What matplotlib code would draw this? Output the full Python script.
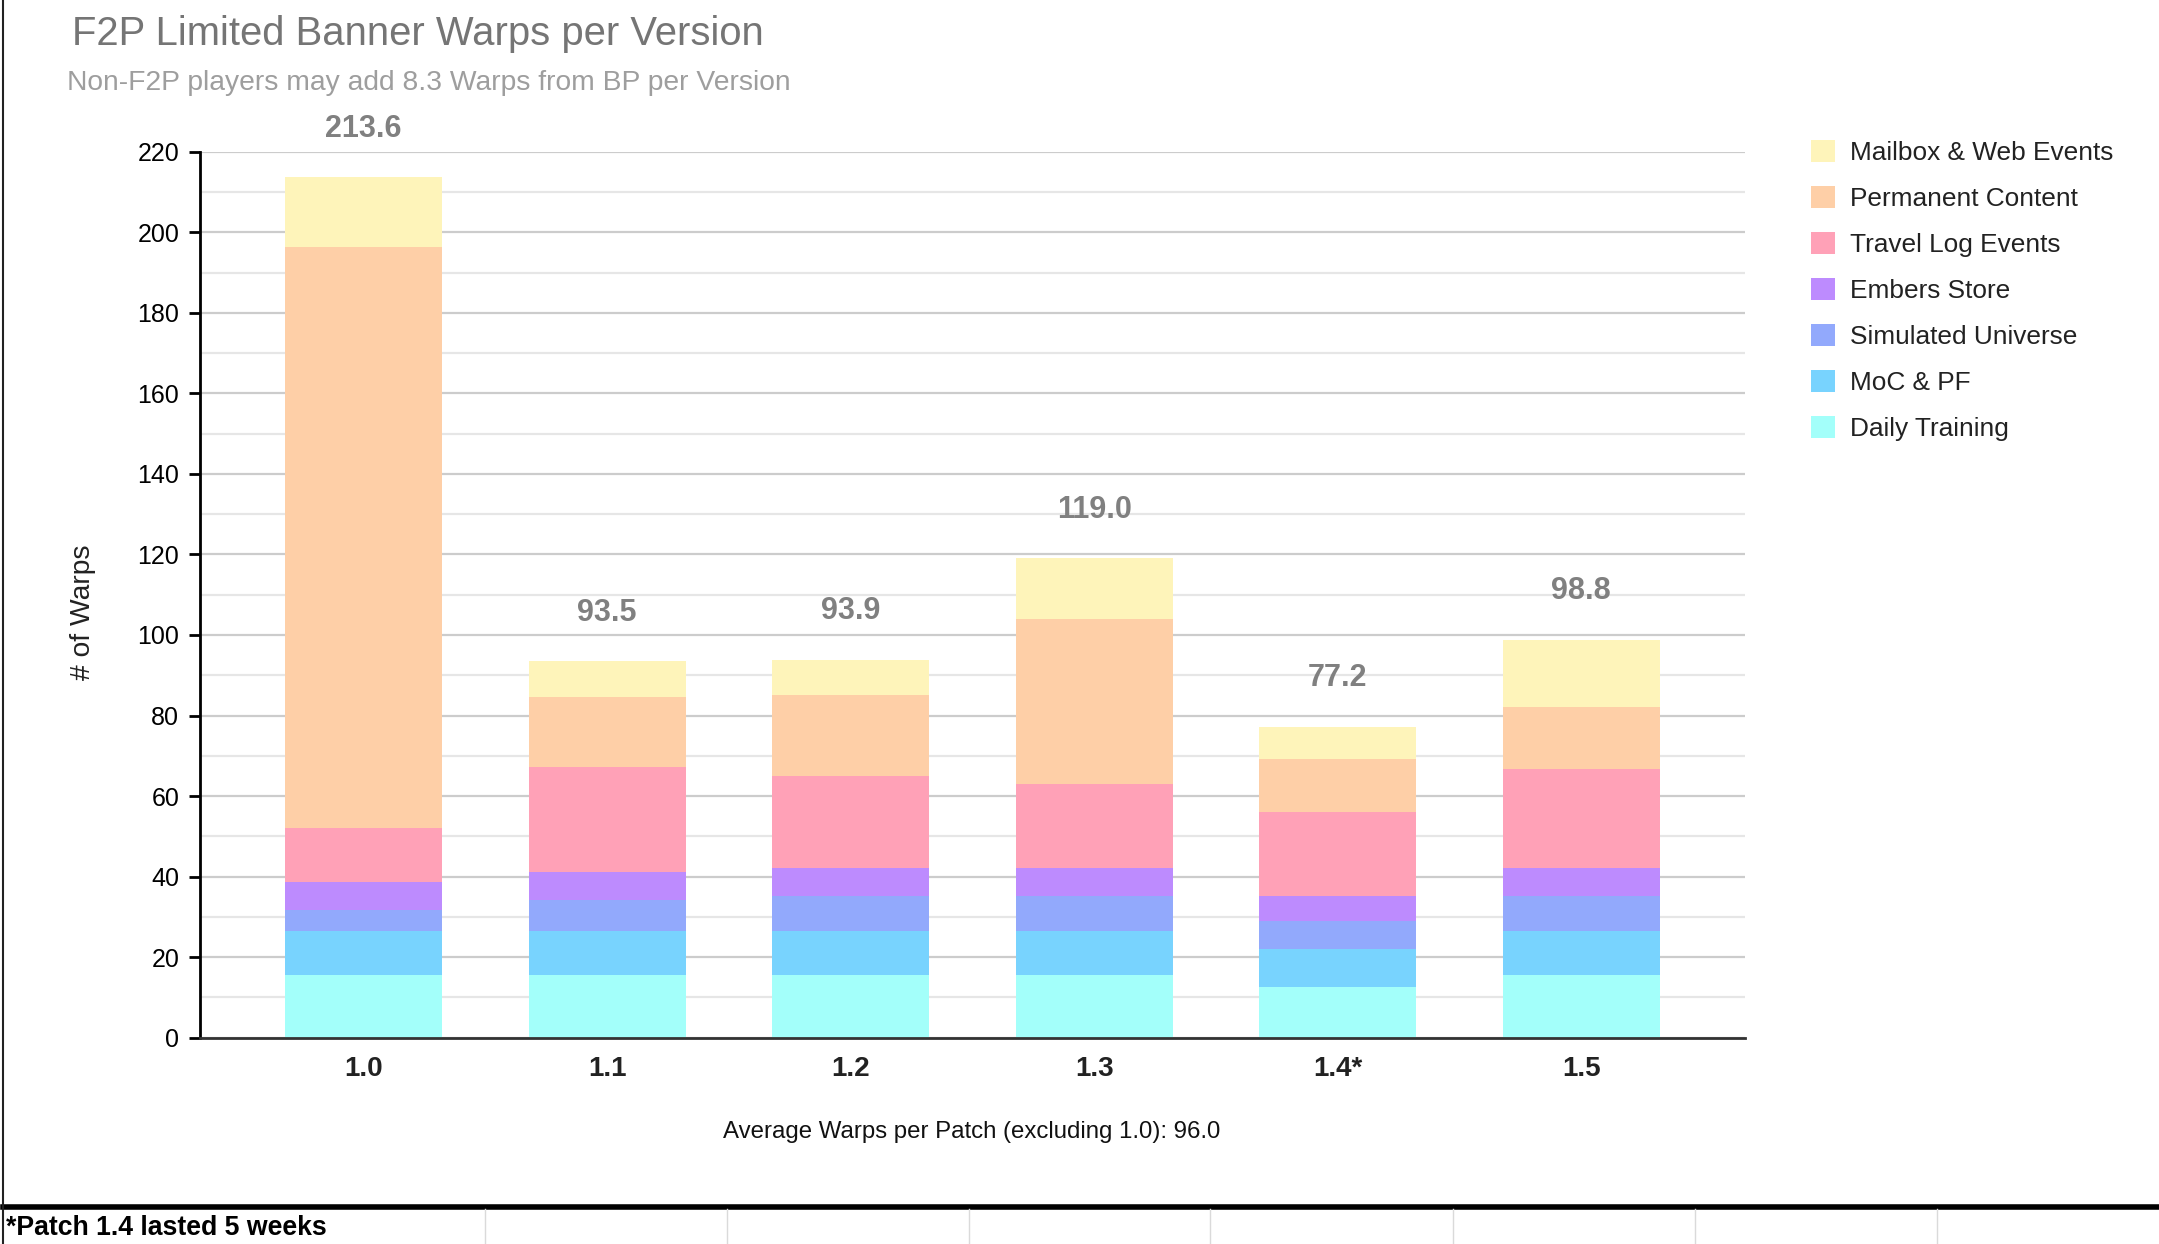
import matplotlib

matplotlib.use("Agg")

import matplotlib.pyplot as plt  # noqa: E402
import numpy as np  # noqa: E402
from matplotlib.lines import Line2D  # noqa: E402
from matplotlib.patches import Patch  # noqa: E402

# ------------------------------------------------------------------ data
versions = ["1.0", "1.1", "1.2", "1.3", "1.4*", "1.5"]

daily_training = [15.6, 15.6, 15.6, 15.6, 12.6, 15.6]
moc_pf = [11.0, 11.0, 11.0, 11.0, 9.5, 11.0]
simulated_universe = [5.0, 7.5, 8.5, 8.5, 7.0, 8.5]
embers_store = [7.0, 7.0, 7.0, 7.0, 6.0, 7.0]
travel_log = [13.5, 26.0, 23.0, 21.0, 21.0, 24.5]
permanent_content = [144.2, 17.5, 20.0, 40.8, 13.0, 15.5]
mailbox_web = [17.3, 8.9, 8.8, 15.1, 8.1, 16.7]

series_names = ["Daily Training", "MoC & PF", "Simulated Universe", "Embers Store",
                "Travel Log Events", "Permanent Content", "Mailbox & Web Events"]
series_colors = ["#a3fffa", "#78d3fe", "#92a9fc", "#bd8bfe",
                 "#ffa1b7", "#fecfa7", "#fef4ba"]

avg_excl_first = 96.0
bp_warps = 8.3

# ------------------------------------------------------------------ figure
plt.rcParams["font.family"] = ["Liberation Sans", "DejaVu Sans"]

W, H, DPI = 2159, 1244, 100
fig = plt.figure(figsize=(W / DPI, H / DPI), dpi=DPI)
ax = fig.add_axes([200 / W, 1 - 1037.7 / H, 1545 / W, 886 / H])

series = [daily_training, moc_pf, simulated_universe, embers_store,
          travel_log, permanent_content, mailbox_web]
x = np.arange(len(versions))
bottom = np.zeros(len(versions))
for vals, name, col in zip(series, series_names, series_colors):
    ax.bar(x, vals, width=0.645, bottom=bottom, color=col, label=name,
           linewidth=0, zorder=3)
    bottom += np.array(vals)

for xi, tot in zip(x, bottom):
    ax.annotate(f"{tot:.1f}", (xi, tot), xytext=(0, 35), textcoords="offset points",
                ha="center", va="center", fontsize=22, fontweight="bold",
                color="#808080")

ax.set_xlim(-0.672, len(versions) - 1 + 0.672)
ax.set_ylim(0, 220)
ax.set_yticks(np.arange(0, 221, 20))
ax.set_yticks(np.arange(10, 220, 20), minor=True)
ax.grid(axis="y", which="major", color="#cccccc", lw=1.6, zorder=0)
ax.grid(axis="y", which="minor", color="#e6e6e6", lw=1.6, zorder=0)
ax.set_axisbelow(True)

for s in ("top", "right"):
    ax.spines[s].set_visible(False)
ax.spines["left"].set_color("black")
ax.spines["left"].set_linewidth(2.0)
ax.spines["bottom"].set_color("#333333")
ax.spines["bottom"].set_linewidth(2.0)
ax.spines["bottom"].set_zorder(4)

ax.tick_params(axis="y", which="major", length=8, width=2, color="black",
               labelsize=18, pad=7)
ax.tick_params(axis="y", which="minor", length=0)
ax.tick_params(axis="x", length=0, pad=13)
ax.set_xticks(x)
ax.set_xticklabels(versions, fontsize=20, fontweight="bold", color="#222222")
ax.set_ylabel("# of Warps", fontsize=20.3, color="#222222")
ax.yaxis.set_label_coords(-0.067, 0.48)

# legend, top series first
handles = [Patch(facecolor=c, edgecolor="none") for c in series_colors][::-1]
ax.legend(handles, series_names[::-1], loc="upper left",
          bbox_to_anchor=(1800 / W, 1 - 130 / H), bbox_transform=fig.transFigure,
          frameon=False, fontsize=18.9, handlelength=0.95, handleheight=0.9,
          handletextpad=0.55, labelspacing=0.80, labelcolor="#222222",
          borderaxespad=0)

# titles and notes
fig.text(72 / W, 1 - 34 / H, "F2P Limited Banner Warps per Version",
         fontsize=28.8, color="#757575", ha="left", va="center")
fig.text(67 / W, 1 - 83 / H,
         f"Non-F2P players may add {bp_warps} Warps from BP per Version",
         fontsize=20.3, color="#9e9e9e", ha="left", va="center")
fig.text(972 / W, 1 - 1132 / H,
         f"Average Warps per Patch (excluding 1.0): {avg_excl_first:.1f}",
         fontsize=17.3, color="#111111", ha="center", va="center")

# sheet frame and cell row underneath
fig.add_artist(Line2D([3 / W, 1], [1 - 1207 / H] * 2, transform=fig.transFigure,
                      color="black", lw=4))
fig.add_artist(Line2D([3 / W] * 2, [0, 1], transform=fig.transFigure,
                      color="#222222", lw=1.5))
for cx in (485, 727, 969, 1210, 1453, 1695, 1937):
    fig.add_artist(Line2D([cx / W] * 2, [0, 1 - 1209 / H], transform=fig.transFigure,
                          color="#dadada", lw=1))
fig.text(6 / W, 1 - 1228 / H, "*Patch 1.4 lasted 5 weeks", fontsize=19.2,
         fontweight="bold", color="black", ha="left", va="center")

fig.savefig("out.png", dpi=DPI)
